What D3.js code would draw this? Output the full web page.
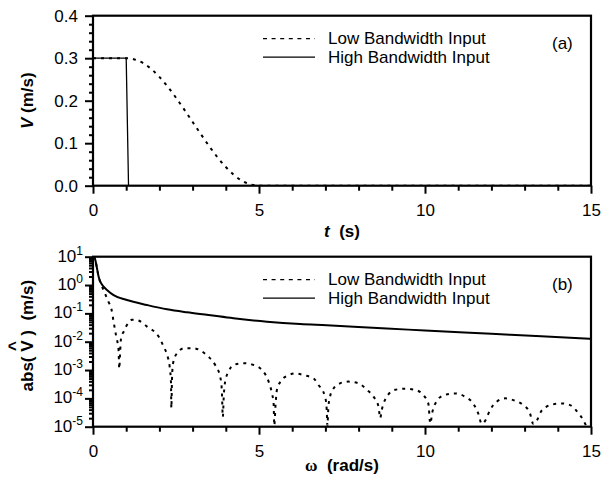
<!DOCTYPE html>
<html>
<head>
<meta charset="utf-8">
<script src="https://cdn.jsdelivr.net/npm/d3@7"></script>
<style>
  html, body { margin: 0; padding: 0; background: #fff; }
  svg { display: block; }
  text { font-family: Arial, "Liberation Sans", sans-serif; fill: #000; }
</style>
</head>
<body>
<svg id="chart" width="604" height="481"></svg>
<script>
// ---------------- DATA ----------------
// Panel (a): time signals
const timeHigh = [0, 1.0, 1.07, 15];
const velHigh  = [0.3, 0.3, 0.0, 0.0];

const timeLow = [0, 1.0, 1.25, 1.5, 1.75, 2.0, 2.25, 2.5, 2.75, 3.0, 3.25, 3.5, 3.75, 4.0, 4.25, 4.5, 4.75, 5.0, 15];
const velLow  = [0.3, 0.300, 0.297, 0.289, 0.275, 0.256, 0.233, 0.207, 0.179, 0.150, 0.121, 0.093, 0.067, 0.044, 0.025, 0.011, 0.003, 0.0, 0.0];

// Panel (b): spectra magnitude
const omegaHigh = [0, 0.04, 0.07, 0.12, 0.17, 0.22, 0.32, 0.42, 0.62, 1.02, 1.63, 2.23, 2.83, 3.48, 4.23, 5.24, 6.24, 7.04, 8.85, 10.0, 12.0, 13.5, 15.0];
const specHigh  = [10, 9.5, 7.6, 3.9, 1.97, 1.31, 0.87, 0.67, 0.44, 0.296, 0.197, 0.139, 0.109, 0.0875, 0.067, 0.0508, 0.042, 0.038, 0.0290, 0.025, 0.0190, 0.0155, 0.0125];

const omegaLow = [0, 0.04, 0.07, 0.12, 0.17, 0.22, 0.27, 0.33, 0.40, 0.47, 0.55, 0.62, 0.70, 0.77, 0.79,
  0.82, 0.85, 0.92, 1.0, 1.17, 1.25, 1.37, 1.63, 1.98, 2.13, 2.25, 2.31, 2.35, 2.36,
  2.38, 2.41, 2.53, 2.75, 3.03, 3.28, 3.48, 3.68, 3.83, 3.88, 3.91,
  3.94, 3.98, 4.08, 4.23, 4.53, 4.84, 5.09, 5.29, 5.39, 5.44, 5.46,
  5.50, 5.54, 5.69, 5.89, 6.09, 6.34, 6.64, 6.79, 6.99, 7.04, 7.06,
  7.09, 7.14, 7.24, 7.44, 7.69, 8.0, 8.25, 8.45, 8.6, 8.65,
  8.7, 8.82, 9.1, 9.4, 9.7, 9.95, 10.1, 10.16,
  10.22, 10.35, 10.55, 10.9, 11.2, 11.45, 11.6, 11.71,
  11.81, 11.96, 12.16, 12.41, 12.66, 12.96, 13.16, 13.26,
  13.36, 13.5, 13.65, 13.82, 14.12, 14.37, 14.62, 14.77, 14.85];
const specLow = [10, 9.5, 7.6, 3.9, 1.95, 1.26, 0.89, 0.63, 0.39, 0.25, 0.15, 0.051, 0.015, 5.1e-3, 1.1e-3,
  5e-3, 0.015, 0.022, 0.035, 0.059, 0.060, 0.056, 0.034, 0.015, 6.6e-3, 2.95e-3, 1.3e-3, 3.4e-4, 4.5e-5,
  5e-4, 1.7e-3, 3.9e-3, 5.9e-3, 5.9e-3, 4.5e-3, 2.95e-3, 1.5e-3, 5.8e-4, 2e-4, 2.2e-5,
  1.3e-4, 3.9e-4, 8.7e-4, 1.5e-3, 1.74e-3, 1.5e-3, 1e-3, 3.9e-4, 1.5e-4, 6.6e-5, 1.1e-5,
  6.3e-5, 2e-4, 4.5e-4, 6.6e-4, 7.6e-4, 6.6e-4, 5.1e-4, 3e-4, 1.15e-4, 3.9e-5, 1.1e-5,
  5e-5, 1.15e-4, 2.2e-4, 3.4e-4, 3.9e-4, 3.4e-4, 2e-4, 1.15e-4, 5.1e-5, 2e-5,
  4e-5, 1e-4, 2e-4, 2.2e-4, 2e-4, 1.3e-4, 6.6e-5, 1.3e-5,
  3.2e-5, 7.9e-5, 1.26e-4, 1.5e-4, 1.15e-4, 6.6e-5, 3e-5, 1.26e-5,
  1.6e-5, 3.9e-5, 7.6e-5, 1e-4, 8.7e-5, 5.8e-5, 3e-5, 1.26e-5,
  1.6e-5, 3.5e-5, 5e-5, 6e-5, 6.6e-5, 5.8e-5, 3e-5, 1.7e-5, 1.1e-5];

// Ticks / labels
const xMajorTicks = [0, 5, 10, 15];
const xMinorTicks = [1, 2, 3, 4, 6, 7, 8, 9, 11, 12, 13, 14];
const yaMajorTicks = [0, 0.1, 0.2, 0.3, 0.4];
const yaMinorTicks = [0.02, 0.04, 0.06, 0.08, 0.12, 0.14, 0.16, 0.18, 0.22, 0.24, 0.26, 0.28, 0.32, 0.34, 0.36, 0.38];
const ybExponents = [-5, -4, -3, -2, -1, 0, 1];
const legendLabels = ["Low Bandwidth Input", "High Bandwidth Input"];
const panelLabels = ["(a)", "(b)"];

// ---------------- LAYOUT ----------------
const svg = d3.select("#chart");
const L = 93, R = 591;
const A = {top: 15.7, bottom: 185.7};
const B = {top: 256.7, bottom: 426.7};
const FS = 17;

const x = d3.scaleLinear().domain([0, 15]).range([L, R]);
const ya = d3.scaleLinear().domain([0, 0.4]).range([A.bottom, A.top]);
const yb = d3.scaleLog().domain([1e-5, 10]).range([B.bottom, B.top]);

const defs = svg.append("defs");
defs.append("clipPath").attr("id", "clipA").append("rect")
  .attr("x", L).attr("y", A.top).attr("width", R - L).attr("height", A.bottom - A.top);
defs.append("clipPath").attr("id", "clipB").append("rect")
  .attr("x", L).attr("y", B.top).attr("width", R - L).attr("height", B.bottom - B.top);

function styleAxis(g) {
  g.select(".domain").remove();
  g.selectAll(".tick line").attr("stroke", "#000").attr("stroke-width", 2);
  g.selectAll(".tick text").attr("font-size", FS).attr("font-family", "Arial, 'Liberation Sans', sans-serif").attr("fill", "#000");
}

function xAxes(panel) {
  svg.append("g").attr("transform", `translate(0,${panel.bottom})`)
    .call(d3.axisBottom(x).tickValues(xMinorTicks).tickSize(5).tickFormat(""))
    .call(styleAxis);
  svg.append("g").attr("transform", `translate(0,${panel.bottom})`)
    .call(d3.axisBottom(x).tickValues(xMajorTicks).tickSize(8).tickPadding(10).tickFormat(d3.format("d")))
    .call(styleAxis);
}

// ----- Panel A -----
xAxes(A);
svg.append("g").attr("transform", `translate(${L},0)`)
  .call(d3.axisLeft(ya).tickValues(yaMinorTicks).tickSize(4).tickFormat(""))
  .call(styleAxis);
svg.append("g").attr("transform", `translate(${L},0)`)
  .call(d3.axisLeft(ya).tickValues(yaMajorTicks).tickSize(8).tickPadding(7).tickFormat(d3.format(".1f")))
  .call(styleAxis);

// ----- Panel B -----
xAxes(B);
const ybMinor = [];
ybExponents.slice(0, -1).forEach(e => { for (let k = 2; k <= 9; k++) ybMinor.push(k * Math.pow(10, e)); });
svg.append("g").attr("transform", `translate(${L},0)`)
  .call(d3.axisLeft(yb).tickValues(ybMinor).tickSize(4).tickFormat(""))
  .call(styleAxis);
const ybMajorAxis = svg.append("g").attr("transform", `translate(${L},0)`)
  .call(d3.axisLeft(yb).tickValues(ybExponents.map(e => Math.pow(10, e))).tickSize(8).tickFormat(""))
  .call(styleAxis);
// superscript labels
ybExponents.forEach(e => {
  const t = svg.append("text")
    .attr("x", 83).attr("y", yb(Math.pow(10, e)) + 5)
    .attr("text-anchor", "end").attr("font-size", FS);
  t.append("tspan").text("10");
  t.append("tspan").attr("dy", -7).attr("font-size", 12).text(e < 0 ? "-" + (-e) : String(e));
});

// ----- Data lines -----
const lineA = d3.line().x(d => x(d[0])).y(d => ya(d[1]));
const lineB = d3.line().x(d => x(d[0])).y(d => yb(Math.max(d[1], 1e-6))).curve(d3.curveMonotoneX);

const gA = svg.append("g").attr("clip-path", "url(#clipA)");
gA.append("path").datum(timeLow.map((t, i) => [t, velLow[i]]))
  .attr("d", lineA.curve(d3.curveMonotoneX)).attr("fill", "none").attr("stroke", "#000")
  .attr("stroke-width", 2).attr("stroke-dasharray", "3,5");
gA.append("path").datum(timeHigh.map((t, i) => [t, velHigh[i]]))
  .attr("d", d3.line().x(d => x(d[0])).y(d => ya(d[1]))).attr("fill", "none").attr("stroke", "#000")
  .attr("stroke-width", 1.3);

const gB = svg.append("g").attr("clip-path", "url(#clipB)");
gB.append("path").datum(omegaLow.map((w, i) => [w, specLow[i]]))
  .attr("d", lineB).attr("fill", "none").attr("stroke", "#000")
  .attr("stroke-width", 2).attr("stroke-dasharray", "3,5");
gB.append("path").datum(omegaHigh.map((w, i) => [w, specHigh[i]]))
  .attr("d", lineB).attr("fill", "none").attr("stroke", "#000")
  .attr("stroke-width", 2);

// ----- Frames -----
[A, B].forEach(p => {
  svg.append("rect").attr("x", L).attr("y", p.top).attr("width", R - L).attr("height", p.bottom - p.top)
    .attr("fill", "none").attr("stroke", "#000").attr("stroke-width", 2.2);
});

// ----- Legends & panel labels -----
[A, B].forEach((p, i) => {
  const lg = svg.append("g");
  lg.append("line").attr("x1", 263).attr("x2", 315).attr("y1", p.top + 23).attr("y2", p.top + 23)
    .attr("stroke", "#000").attr("stroke-width", 1.3).attr("stroke-dasharray", "4,4.6");
  lg.append("line").attr("x1", 263).attr("x2", 315).attr("y1", p.top + 41.5).attr("y2", p.top + 41.5)
    .attr("stroke", "#000").attr("stroke-width", 1.3);
  lg.append("text").attr("x", 328).attr("y", p.top + 28).attr("font-size", FS).text(legendLabels[0]);
  lg.append("text").attr("x", 328).attr("y", p.top + 47).attr("font-size", FS).text(legendLabels[1]);
  svg.append("text").attr("x", 552).attr("y", p.top + 33).attr("font-size", FS).text(panelLabels[i]);
});

// ----- Axis titles -----
// t (s)
const tt = svg.append("text").attr("x", (L + R) / 2).attr("y", 237).attr("text-anchor", "middle")
  .attr("font-size", FS).attr("font-weight", "bold");
tt.append("tspan").attr("font-style", "italic").text("t");
tt.append("tspan").text("\u00a0 (s)");

// V (m/s)
const vt = svg.append("text").attr("transform", `translate(33,${(A.top + A.bottom) / 2}) rotate(-90)`)
  .attr("text-anchor", "middle").attr("font-size", FS).attr("font-weight", "bold");
vt.append("tspan").attr("font-style", "italic").text("V");
vt.append("tspan").text(" (m/s)");

// omega (rad/s)
const wt = svg.append("text").attr("x", (L + R) / 2).attr("y", 471).attr("text-anchor", "middle")
  .attr("font-size", FS).attr("font-weight", "bold");
wt.append("tspan").attr("font-family", "'Liberation Serif', 'DejaVu Serif', serif").text("\u03c9");
wt.append("tspan").text("\u00a0 (rad/s)");

// abs( V^ ) (m/s)
const ag = svg.append("g").attr("transform", `translate(33,${(B.top + B.bottom) / 2 - 6}) rotate(-90)`);
const at = ag.append("text").attr("text-anchor", "middle").attr("font-size", FS).attr("font-weight", "bold");
at.append("tspan").text("abs(\u00a0");
const vSpan = at.append("tspan").text("V");
at.append("tspan").text("\u00a0)\u00a0\u00a0(m/s)");
// hat over V
const full = at.node();
const idx = 5; // index of V
const ext = full.getExtentOfChar(idx);
ag.append("text").attr("x", ext.x + ext.width / 2).attr("y", ext.y + 2)
  .attr("text-anchor", "middle").attr("font-size", FS).attr("font-weight", "bold").text("^");
</script>
</body>
</html>
